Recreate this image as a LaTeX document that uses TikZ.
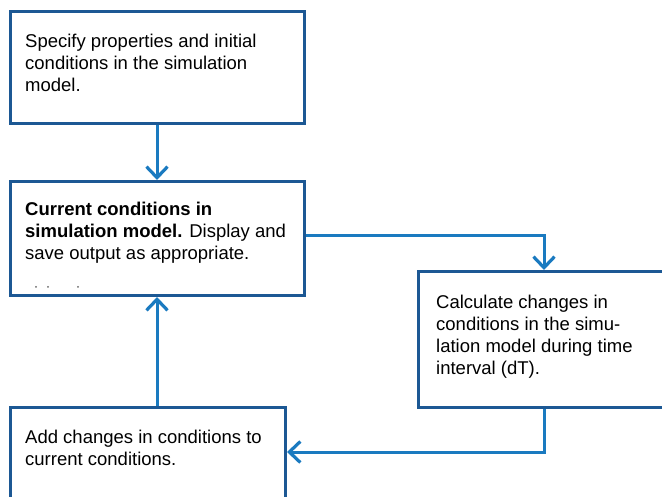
\documentclass[tikz,border=0pt]{standalone}
\usepackage{fontspec}
\setmainfont{Liberation Sans}
\usetikzlibrary{arrows.meta}
\definecolor{boxblue}{RGB}{28,88,148}
\definecolor{arrblue}{RGB}{26,122,192}
\tikzset{
  box/.style={draw=boxblue, line width=3pt, rectangle, anchor=north west, inner sep=0pt},
  txt/.style={anchor=north west, inner sep=0pt, align=left, font=\fontsize{18.5}{22}\selectfont, text=black},
  conn/.style={draw=arrblue, line width=3pt, -{Straight Barb[length=11pt,width=21pt,line width=3.2pt]}}
}
\begin{document}
\begin{tikzpicture}[x=1pt,y=-1pt]
\useasboundingbox (0,0) rectangle (662,497);
\begin{scope}
\clip (0,0) rectangle (662,497);
\node[box, minimum width=294pt, minimum height=112pt] (b1) at (9,10) {};
\node[box, minimum width=294pt, minimum height=114pt] (b2) at (9,180) {};
\node[box, minimum width=260pt, minimum height=136pt] (b3) at (417,270) {};
\node[box, minimum width=275pt, minimum height=100pt] (b4) at (9,406) {};
\end{scope}
\node[txt] (t1) at (25,33.5) {Specify properties and initial\\conditions in the simulation\\model.};
\node[txt] (t2) at (25,202) {\textbf{Current conditions in}\\\textbf{simulation model.} Display and\\save output as appropriate.};
\node[txt] (t3) at (436,294.5) {Calculate changes in\\conditions in the simu-\\lation model during time\\interval (dT).};
\node[txt] (t4) at (25,429.5) {Add changes in conditions to\\current conditions.};
\foreach \i/\x in {1/36,2/48,3/78} \fill[gray!80!black] (\x,287) circle (1pt) coordinate (d\i);
\coordinate (c2) at (544,236);
\coordinate (c3) at (544,452);
\draw[conn] (b1.south -| 157,0) -- (b2.north -| 157,0);
\draw[conn] (b2.east |- c2) -- (c2) -- (c2 |- b3.north);
\draw[conn] (c3 |- b3.south) -- (c3) -- (b4.east |- c3);
\draw[conn] (b4.north -| 157,0) -- (b2.south -| 157,0);
\end{tikzpicture}
\end{document}
